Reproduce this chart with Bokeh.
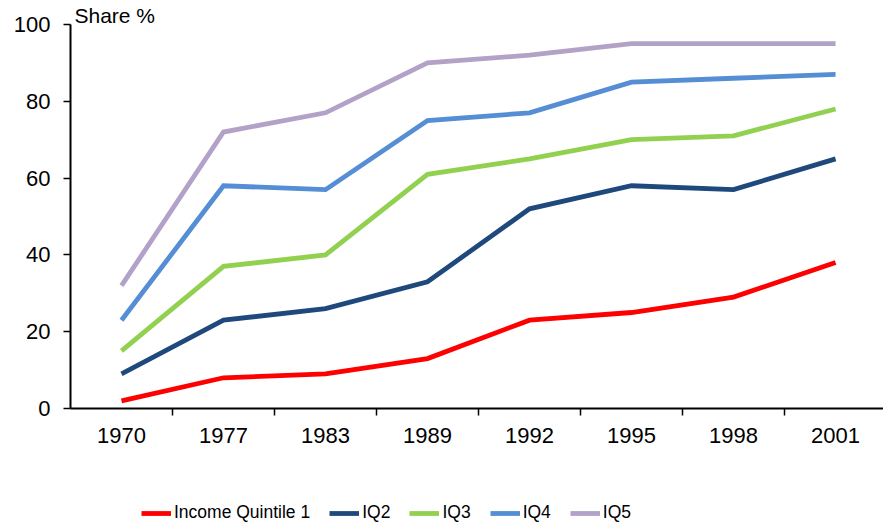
from bokeh.plotting import figure
from bokeh.layouts import column
from bokeh.models import (Range1d, LinearAxis, FixedTicker, Legend, LegendItem)
from bokeh.embed import file_html
from bokeh.resources import INLINE

years = ["1970", "1977", "1983", "1989", "1992", "1995", "1998", "2001"]
iq1 = [2, 8, 9, 13, 23, 25, 29, 38]
iq2 = [9, 23, 26, 33, 52, 58, 57, 65]
iq3 = [15, 37, 40, 61, 65, 70, 71, 78]
iq4 = [23, 58, 57, 75, 77, 85, 86, 87]
iq5 = [32, 72, 77, 90, 92, 95, 95, 95]
names = ["Income Quintile 1", "IQ2", "IQ3", "IQ4", "IQ5"]
colors = ["#FF0000", "#1F497D", "#92D050", "#558ED5", "#B3A2C7"]
y_ticks = [0, 20, 40, 60, 80, 100]

FONT = "Liberation Sans"
xs = list(range(len(years)))
series = [iq1, iq2, iq3, iq4, iq5]

p = figure(width=883, height=460, output_backend="svg", toolbar_location=None,
           x_range=Range1d(-0.5, 7.47), y_range=Range1d(0, 100),
           x_axis_type=None, y_axis_type=None,
           min_border_left=70, min_border_right=0, min_border_top=24,
           min_border_bottom=52)
p.outline_line_color = None
p.xgrid.visible = False
p.ygrid.visible = False
p.background_fill_color = "white"

p.title.text = "Share %"
p.title.align = "left"
p.title.offset = 4
p.title.standoff = -4
p.title.text_font = FONT
p.title.text_font_size = "21px"
p.title.text_font_style = "normal"
p.title.text_color = "black"

# y axis
yax = LinearAxis(ticker=FixedTicker(ticks=y_ticks))
yax.axis_line_width = 2
yax.axis_line_color = "black"
yax.major_tick_out = 7
yax.major_tick_in = 0
yax.major_tick_line_width = 1.5
yax.minor_tick_out = 0
yax.minor_tick_in = 0
yax.major_label_text_font = FONT
yax.major_label_text_font_size = "22px"
yax.major_label_text_color = "black"
yax.major_label_standoff = 13
p.add_layout(yax, "left")

# x axis: boundary ticks
xax = LinearAxis(ticker=FixedTicker(ticks=[i + 0.5 for i in range(len(years) - 1)]))
xax.axis_line_width = 2
xax.axis_line_color = "black"
xax.major_tick_out = 7
xax.major_tick_in = 0
xax.major_tick_line_width = 1.5
xax.minor_tick_out = 0
xax.minor_tick_in = 0
xax.major_label_text_font_size = "0px"
xax.major_label_standoff = 0
xax.major_label_overrides = {i + 0.5: "" for i in range(len(years) - 1)}
p.add_layout(xax, "below")

# x axis: category labels
xlab = LinearAxis(ticker=FixedTicker(ticks=xs))
xlab.axis_line_color = None
xlab.major_tick_line_color = None
xlab.major_tick_out = 0
xlab.major_tick_in = 0
xlab.minor_tick_out = 0
xlab.minor_tick_in = 0
xlab.major_label_overrides = {i: y for i, y in enumerate(years)}
xlab.major_label_text_font = FONT
xlab.major_label_text_font_size = "22px"
xlab.major_label_text_color = "black"
xlab.major_label_standoff = 12
p.add_layout(xlab, "below")

for col, vals in zip(colors, series):
    p.line(xs, vals, line_color=col, line_width=4.8, line_join="miter")

# legend strip below the chart (its frame shows no data, only the legend)
lf = figure(width=883, height=63, output_backend="svg", toolbar_location=None,
            x_range=Range1d(100, 101), y_range=Range1d(1000, 1001),
            x_axis_type=None, y_axis_type=None,
            min_border_left=0, min_border_right=0, min_border_top=0,
            min_border_bottom=0)
lf.outline_line_color = None
lf.xgrid.visible = False
lf.ygrid.visible = False
items = []
for name, col, vals in zip(names, colors, series):
    r = lf.line(xs, vals, line_color=col, line_width=4.8)
    items.append(LegendItem(label=name, renderers=[r]))
legend = Legend(items=items, orientation="horizontal", location=(71, 0),
                glyph_width=30, glyph_height=20, label_standoff=3, spacing=19,
                padding=0, margin=0, border_line_color=None,
                background_fill_alpha=0,
                label_text_font=FONT, label_text_font_size="17.5px",
                label_text_color="black")
lf.add_layout(legend, "center")

layout = column(p, lf, spacing=0)
open("out.html", "w").write(file_html(layout, INLINE))
